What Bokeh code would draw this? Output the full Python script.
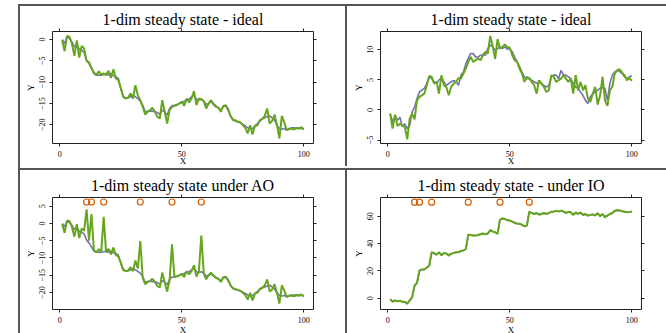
from bokeh.plotting import figure
from bokeh.models import LinearAxis, FixedTicker, Range1d, Div
from bokeh.layouts import row, column
from bokeh.embed import file_html
from bokeh.resources import INLINE

t = list(range(1, 101))

# ---- panel 1: 1-dim steady state - ideal (left) ----
ideal1_state = [0, -0.94, 0.63, 0.23, -0.55, -1.72, -1.33, -2.27, -2.5, -3.05,
                -4.84, -5.63, -6.8, -7.97, -8.36, -8.36, -8.36, -8.2, -7.97, -8.36,
                -7.97, -8.5, -8.75, -9.14, -11.48, -13.44, -13.67, -13.67, -13.44, -13.05,
                -13.44, -13.83, -14.45, -15.39, -16.95, -16.8, -16.8, -16.8, -16.95, -17.1,
                -17.58, -16.56, -16.95, -17.73, -16.17, -15.55, -15.39, -15.23, -15.0, -14.77,
                -14.45, -14.22, -13.98, -13.44, -13.05, -13.98, -14.22, -13.98, -14.45, -15.23,
                -15.0, -14.61, -15.0, -15.55, -16.02, -16.56, -15.78, -15.55, -16.17, -18.13,
                -18.67, -19.14, -19.3, -19.45, -19.92, -20.23, -20.7, -20.86, -20.86, -20.23,
                -19.69, -19.14, -18.52, -18.36, -18.13, -17.89, -18.36, -18.91, -20.08, -20.86,
                -21.02, -20.86, -21.25, -20.86, -20.7, -20.7, -20.86, -20.7, -20.86, -21.02]
ideal1_obs = [-0.16, -2.73, 0.86, 0.63, -0.94, -3.83, -0.23, -4.22, -1.48, -2.11,
              -5.08, -5.3, -6.64, -7.73, -8.36, -7.42, -8.2, -7.97, -8.36, -7.34,
              -8.98, -6.95, -9.14, -9.53, -11.33, -13.44, -13.83, -13.67, -12.66, -13.83,
              -10.7, -13.05, -14.22, -15.78, -17.58, -16.95, -16.56, -16.02, -16.95, -18.13,
              -18.52, -14.22, -16.95, -19.69, -16.56, -15.78, -15.55, -15.39, -15.0, -14.61,
              -15.55, -13.83, -14.77, -13.83, -12.11, -15.39, -13.83, -13.98, -14.45, -16.17,
              -15.0, -14.22, -15.23, -15.78, -16.02, -16.95, -15.55, -15.39, -16.56, -17.89,
              -18.91, -18.91, -19.3, -19.45, -20.08, -20.7, -22.03, -20.08, -22.27, -20.23,
              -20.08, -18.91, -18.67, -17.89, -16.17, -19.69, -19.14, -17.58, -20.08, -23.2,
              -17.89, -19.45, -21.25, -21.02, -20.86, -21.09, -20.7, -20.94, -20.55, -21.02]

# ---- panel 2: 1-dim steady state - ideal (right) ----
ideal2_state = [-0.6, -2.0, -1.0, -1.7, -1.2, -2.8, -2.3, -3.1, -2.6, -0.3,
                0.5, 1.9, 3.0, 3.3, 3.6, 4.4, 5.5, 5.2, 4.7, 4.4,
                5.0, 5.3, 4.7, 4.1, 4.4, 4.7, 4.9, 4.7, 4.1, 5.8,
                6.3, 7.7, 8.6, 9.4, 9.4, 8.8, 8.8, 9.1, 9.2, 9.1,
                10.2, 10.8, 10.5, 9.9, 10.2, 10.5, 10.2, 10.5, 10.1, 10.2,
                9.7, 8.8, 8.0, 7.2, 6.3, 5.5, 5.2, 5.3, 4.9, 4.7,
                4.4, 4.7, 4.4, 4.1, 3.8, 4.1, 5.5, 5.8, 5.8, 5.2,
                6.6, 5.8, 5.8, 5.5, 5.2, 4.4, 3.8, 3.6, 3.0, 2.4,
                1.6, 1.1, 2.2, 2.7, 3.0, 3.3, 3.6, 3.7, 3.6, 1.6,
                4.4, 5.8, 6.3, 6.6, 6.4, 6.1, 5.5, 5.2, 5.5, 5.7]
ideal2_obs = [-0.61, -3.11, -0.78, -2.67, -2.28, -2.56, -2.83, -4.89, -1.44, -0.61,
              -1.56, 1.61, 2.17, 2.44, 2.72, 4.11, 5.67, 5.5, 4.39, 4.67,
              2.72, 5.78, 4.11, 3.83, 2.44, 3.83, 4.39, 4.67, 5.33, 5.22,
              6.06, 6.89, 8.0, 8.83, 8.0, 8.28, 8.56, 8.28, 9.11, 9.67,
              9.39, 12.3, 10.6, 8.5, 11.8, 10.2, 10.5, 10.9, 10.4, 10.4,
              9.11, 8.28, 8.0, 6.89, 6.06, 4.67, 5.5, 5.22, 4.67, 4.11,
              2.72, 4.94, 4.39, 3.83, 3.0, 3.28, 5.78, 5.5, 4.67, 4.94,
              5.22, 5.78, 5.22, 4.67, 5.22, 2.72, 5.78, 3.28, 4.67, 3.28,
              4.11, 1.89, 1.33, 2.72, 3.83, 0.89, 2.44, 5.5, 1.61, 0.67,
              3.28, 3.83, 6.06, 6.61, 6.78, 6.22, 5.78, 4.94, 5.33, 4.83]

# ---- panel 3: 1-dim steady state under AO ----
ao_state = list(ideal1_state)
ao_obs = [-0.16, -2.73, 0.86, 0.63, -0.94, -3.83, -0.23, -4.22, -1.48, -2.11,
          4.1, -5.0, 2.7, -7.73, -8.36, -7.42, -8.2, 1.9, -8.36, -7.34,
          -8.98, -6.95, -9.14, -9.53, -11.33, -13.44, -13.83, -13.67, -12.66, -13.83,
          -10.7, -13.05, -5.1, -15.78, -17.58, -16.95, -16.56, -16.02, -16.95, -18.13,
          -18.52, -14.22, -16.95, -19.69, -16.56, -6.05, -15.55, -15.39, -15.0, -14.61,
          -15.55, -13.83, -14.77, -13.83, -12.11, -15.39, -13.83, -3.5, -14.45, -16.17,
          -15.0, -14.22, -15.23, -15.78, -16.02, -16.95, -15.55, -15.39, -16.56, -17.89,
          -18.91, -18.91, -19.3, -19.45, -20.08, -20.7, -22.03, -20.08, -22.27, -20.23,
          -20.08, -18.91, -18.67, -17.89, -16.17, -19.69, -19.14, -17.58, -20.08, -23.2,
          -17.89, -19.45, -21.25, -21.02, -20.86, -21.09, -20.7, -20.94, -20.55, -21.02]

# ---- panel 4: 1-dim steady state - under IO ----
io_state = [-0.7, -2.0, -1.5, -2.0, -1.8, -2.6, -2.4, -3.5, -1.8, 0.5,
            9.0, 11.2, 20.0, 21.0, 21.3, 22.4, 23.8, 33.5, 33.0, 32.3,
            33.5, 32.0, 33.0, 32.8, 31.8, 32.6, 33.2, 33.5, 33.8, 34.5,
            35.0, 36.0, 46.5, 46.4, 46.0, 46.0, 46.3, 46.8, 47.2, 47.0,
            47.5, 49.5, 49.0, 48.3, 47.5, 57.5, 58.3, 58.0, 57.3, 56.9,
            56.3, 55.4, 54.8, 54.5, 53.8, 53.0, 53.2, 63.2, 62.5, 61.8,
            62.3, 61.5, 61.8, 62.3, 61.9, 62.4, 63.3, 63.5, 64.0, 63.6,
            64.2, 63.5, 62.6, 63.2, 62.9, 61.5, 62.5, 61.8, 62.6, 61.3,
            61.5, 60.8, 61.0, 61.3, 60.8, 62.0, 60.5, 61.5, 59.8, 60.6,
            61.5, 62.3, 63.8, 64.3, 64.2, 63.8, 63.5, 63.0, 63.2, 63.5]
io_obs = [-0.73, -2.67, -1.7, -2.19, -1.7, -2.67, -2.67, -4.13, -1.46, 0.97,
          9.48, 11.42, 20.41, 21.14, 21.14, 22.6, 24.05, 33.77, 33.04, 31.83,
          33.77, 31.34, 33.28, 32.8, 31.1, 32.56, 33.28, 33.77, 33.77, 34.74,
          34.99, 36.2, 46.65, 46.4, 45.92, 45.92, 46.4, 46.89, 47.38, 46.89,
          47.38, 50.05, 48.83, 48.35, 47.13, 57.58, 58.55, 58.07, 57.09, 56.85,
          56.12, 55.15, 54.66, 54.66, 53.69, 52.72, 53.21, 63.41, 62.44, 61.71,
          62.44, 61.22, 61.71, 62.44, 61.71, 62.44, 63.41, 63.41, 64.14, 63.41,
          64.14, 63.41, 62.44, 63.41, 62.93, 60.98, 62.93, 61.71, 62.93, 60.98,
          61.71, 60.5, 60.98, 61.47, 60.5, 62.44, 60.01, 61.71, 59.28, 60.5,
          61.71, 62.44, 64.14, 64.63, 64.38, 63.65, 63.41, 62.93, 63.17, 63.65]

outlier_times = [11, 13, 18, 33, 46, 58]
ao_marker_level = 6.2
io_marker_level = 70.4

x_ticks = [0, 50, 100]
ideal1_yticks = [-20, -15, -10, -5, 0]
ideal2_yticks = [-5, 0, 5, 10]
ao_yticks = [-20, -15, -10, -5, 0, 5]
io_yticks = [0, 20, 40, 60]

STATE_COL = "#7570b3"
OBS_COL = "#66a61e"
OUT_COL = "#d95f02"
FRAME_COL = "#222222"
PANEL_LINE = "#555555"
SERIF = "Liberation Serif"


def labelled_axis(ax, ticks, label, label_standoff, vertical=False):
    ax.ticker = FixedTicker(ticks=ticks)
    ax.axis_line_color = None
    ax.major_tick_out = 3
    ax.major_tick_in = 0
    ax.minor_tick_out = 0
    ax.minor_tick_in = 0
    ax.major_tick_line_color = FRAME_COL
    ax.major_label_text_font = SERIF
    ax.major_label_text_font_size = "8px"
    ax.major_label_text_color = "black"
    ax.major_label_standoff = 4
    if vertical:
        ax.major_label_orientation = "vertical"
    ax.axis_label = label
    ax.axis_label_text_font = SERIF
    ax.axis_label_text_font_size = "9px"
    ax.axis_label_text_font_style = "normal"
    ax.axis_label_text_color = "black"
    ax.axis_label_standoff = label_standoff


def tick_only_axis(ax, ticks):
    # ticks without labels: positions as minor ticks, no major ticks
    ax.ticker = FixedTicker(ticks=[], minor_ticks=ticks)
    ax.axis_line_color = None
    ax.major_tick_out = 3
    ax.major_tick_in = 0
    ax.minor_tick_out = 3
    ax.minor_tick_in = 0
    ax.minor_tick_line_color = FRAME_COL
    ax.major_label_standoff = 0


def make_panel(title, state, obs, yticks, yrange, bl, br, bt, bb, x_lab_standoff,
               marker_level=None):
    p = figure(frame_width=261, frame_height=112, output_backend="svg", toolbar_location=None,
               x_range=Range1d(-2.96, 103.96), y_range=Range1d(*yrange),
               x_axis_location=None, y_axis_location=None,
               min_border_left=bl, min_border_right=br,
               min_border_top=bt, min_border_bottom=bb)
    p.grid.visible = False
    p.outline_line_color = FRAME_COL
    p.outline_line_width = 1
    p.background_fill_color = "white"
    p.border_fill_color = "white"

    bottom = LinearAxis()
    labelled_axis(bottom, x_ticks, "X", x_lab_standoff)
    p.add_layout(bottom, "below")
    top = LinearAxis()
    tick_only_axis(top, x_ticks)
    p.add_layout(top, "above")
    left = LinearAxis()
    labelled_axis(left, yticks, "Y", 1, vertical=True)
    p.add_layout(left, "left")
    right = LinearAxis()
    tick_only_axis(right, yticks)
    p.add_layout(right, "right")

    p.title.text = title
    p.title.text_font = SERIF
    p.title.text_font_size = "16px"
    p.title.text_font_style = "normal"
    p.title.text_color = "black"
    p.title.align = "center"
    p.title.standoff = 2

    p.line(t, state, line_color=STATE_COL, line_width=1.6)
    p.line(t, obs, line_color=OBS_COL, line_width=2)
    if marker_level is not None:
        p.scatter(outlier_times, [marker_level] * len(outlier_times), marker="circle",
                  size=6, fill_color=None, line_color=OUT_COL, line_width=1.2)
    return p


p1 = make_panel("1-dim steady state - ideal", ideal1_state, ideal1_obs, ideal1_yticks,
                (-24.38, 1.88), 32, 32, 25, 23, -4)
p2 = make_panel("1-dim steady state - ideal", ideal2_state, ideal2_obs, ideal2_yticks,
                (-5.57, 13.05), 33, 25, 25, 23, -4)
p3 = make_panel("1-dim steady state under AO", ao_state, ao_obs, ao_yticks,
                (-24.9, 7.5), 32, 32, 27, 26, -1, marker_level=ao_marker_level)
p4 = make_panel("1-dim steady state - under IO", io_state, io_obs, io_yticks,
                (-8.2, 73.8), 33, 25, 27, 26, -1, marker_level=io_marker_level)


def bar(w, h):
    return Div(text="", width=w, height=h, margin=0,
               styles={"background-color": PANEL_LINE})


grid = column(
    bar(646, 2),
    row(p1, bar(2, 160), p2, spacing=0),
    bar(646, 2),
    row(p3, bar(2, 165), p4, spacing=0),
    spacing=0,
)
root = row(bar(2, 329), grid, spacing=0, margin=(4, 0, 0, 18))

open("out.html", "w").write(file_html(root, INLINE))
